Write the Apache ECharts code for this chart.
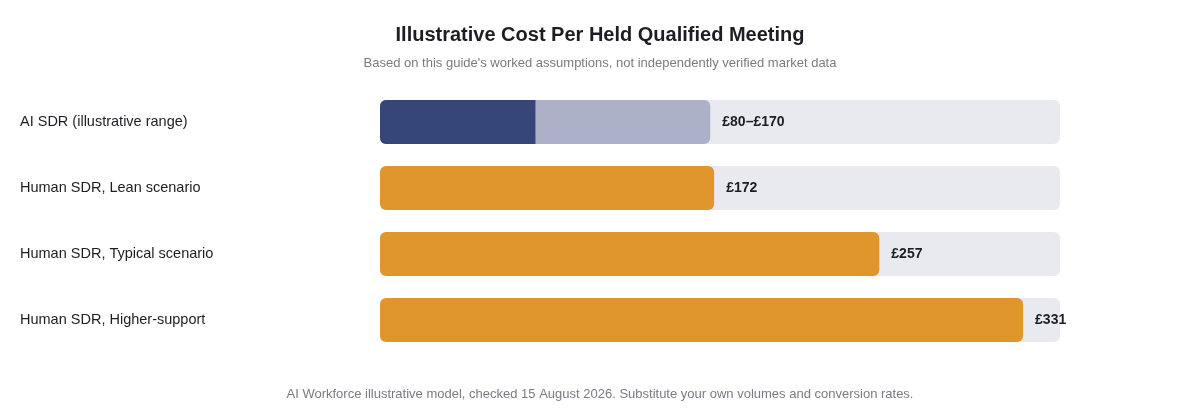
<!DOCTYPE html>
<html><head><meta charset="utf-8">
<script src="https://cdn.jsdelivr.net/npm/echarts@6/dist/echarts.min.js"></script>
<style>html,body{margin:0;padding:0;background:#fff}#c{width:1200px;height:420px}</style>
</head><body><div id="c"></div>
<script>
const categories = ["AI SDR (illustrative range)", "Human SDR, Lean scenario", "Human SDR, Typical scenario", "Human SDR, Higher-support"];
const upperValues = [170, 172, 257, 331];
const lowerValues = [80, null, null, null];
const valueLabels = ["£80–£170", "£172", "£257", "£331"];
const axisMax = 350;

const chart = echarts.init(document.getElementById('c'));
chart.setOption({
  animation: false,
  textStyle: {fontFamily: 'Liberation Sans, Arial, sans-serif'},
  title: {
    text: 'Illustrative Cost Per Held Qualified Meeting',
    subtext: "Based on this guide's worked assumptions, not independently verified market data",
    left: 'center', top: 20, itemGap: 12,
    textStyle: {fontSize: 20, fontWeight: 'bold', color: '#1d1d24'},
    subtextStyle: {fontSize: 13, color: '#7a7a85'}
  },
  graphic: [{type: 'text', left: 'center', top: 388,
    style: {text: 'AI Workforce illustrative model, checked 15 August 2026. Substitute your own volumes and conversion rates.',
      fontSize: 13, fill: '#7a7a85', fontFamily: 'Liberation Sans, Arial, sans-serif'}}],
  grid: {left: 380, right: 140, top: 89, height: 264},
  xAxis: {type: 'value', min: 0, max: axisMax, show: false},
  yAxis: {type: 'category', data: categories, inverse: true,
    axisLine: {show: false}, axisTick: {show: false},
    axisLabel: {align: 'left', margin: 360, fontSize: 14.5, color: '#1d1d24'}},
  series: [
    {type: 'bar', barWidth: 44,
      data: upperValues.map((v, i) => ({value: v, itemStyle: {color: i === 0 ? '#adb1c8' : '#e0962c'}})),
      itemStyle: {borderRadius: 6},
      showBackground: true, backgroundStyle: {color: '#e9eaef', borderRadius: 6},
      label: {show: true, position: 'right', distance: 12, fontSize: 14, fontWeight: 'bold', color: '#1d1d24',
        formatter: p => valueLabels[p.dataIndex]}},
    {type: 'bar', barWidth: 44, barGap: '-100%', data: lowerValues,
      itemStyle: {color: '#364677', borderRadius: [6, 0, 0, 6]}}
  ]
});
</script></body></html>
